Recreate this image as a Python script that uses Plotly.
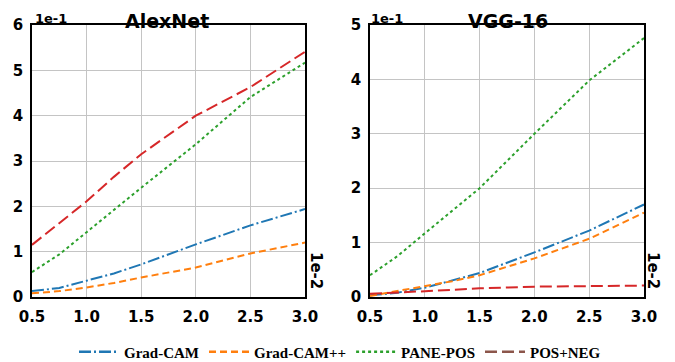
import plotly.graph_objects as go

x_vals = [0.5, 0.75, 1.0, 1.25, 1.5, 2.0, 2.5, 3.0]

# AlexNet (plotted on the 1e-1 left scale)
alex_gradcam   = [0.13, 0.20, 0.36, 0.52, 0.72, 1.16, 1.58, 1.94]
alex_gradcampp = [0.08, 0.13, 0.21, 0.31, 0.43, 0.65, 0.96, 1.20]
alex_panepos   = [0.55, 0.94, 1.43, 1.93, 2.41, 3.37, 4.41, 5.17]
alex_posneg    = [1.15, 1.62, 2.11, 2.65, 3.15, 4.00, 4.63, 5.41]

# VGG-16
vgg_gradcam   = [0.03, 0.08, 0.17, 0.30, 0.44, 0.82, 1.22, 1.70]
vgg_gradcampp = [0.02, 0.11, 0.19, 0.29, 0.40, 0.71, 1.07, 1.55]
vgg_panepos   = [0.40, 0.75, 1.17, 1.58, 2.00, 3.00, 3.98, 4.76]
vgg_posneg    = [0.06, 0.08, 0.10, 0.13, 0.16, 0.19, 0.20, 0.21]

series_names = ["Grad-CAM", "Grad-CAM++", "PANE-POS", "POS+NEG"]
line_colors = ["#1f77b4", "#ff7f0e", "#2ca02c", "#d62728"]
legend_colors = ["#1f77b4", "#ff7f0e", "#2ca02c", "#8c564b"]
dashes = ["12px,3px,2px,3px", "7px,4px", "3px,3px", "12px,5px"]

x_ticks = [0.5, 1.0, 1.5, 2.0, 2.5, 3.0]
x_tick_text = ["0.5", "1.0", "1.5", "2.0", "2.5", "3.0"]

W, H, OFF = 675, 362, 8  # page body margin offset


def px(s):
    return (s - OFF) / W


def py(s):
    return 1 - (s - OFF) / H


fig = go.Figure()

alex = [alex_gradcam, alex_gradcampp, alex_panepos, alex_posneg]
vgg = [vgg_gradcam, vgg_gradcampp, vgg_panepos, vgg_posneg]

for i in range(4):
    fig.add_trace(go.Scatter(x=x_vals, y=alex[i], mode="lines", showlegend=False,
                             line=dict(color=line_colors[i], width=2, dash=dashes[i]),
                             xaxis="x", yaxis="y"))
    fig.add_trace(go.Scatter(x=x_vals, y=vgg[i], mode="lines", showlegend=False,
                             line=dict(color=line_colors[i], width=2, dash=dashes[i]),
                             xaxis="x2", yaxis="y2"))
for i in range(4):
    fig.add_trace(go.Scatter(x=[None], y=[None], mode="lines", name=series_names[i],
                             line=dict(color=legend_colors[i], width=2.5, dash=dashes[i]),
                             xaxis="x", yaxis="y"))

tickfont = dict(family="DejaVu Sans", size=15, color="black", weight="bold")
common_x = dict(range=[0.5, 3.0], tickvals=x_ticks, ticktext=x_tick_text, showgrid=True,
                gridcolor="#c4c4c4", gridwidth=1, showline=True, linecolor="black",
                linewidth=1.5, mirror=True, ticks="", tickfont=tickfont, zeroline=False,
                ticklabelstandoff=5)
common_y = dict(showgrid=True, gridcolor="#c4c4c4", gridwidth=1, showline=True,
                linecolor="black", linewidth=1.5, mirror=True, ticks="",
                tickfont=tickfont, zeroline=False, dtick=1, ticklabelstandoff=4)

ydom = [py(297), py(25)]
fig.update_layout(
    width=W, height=H,
    margin=dict(l=0, r=0, t=0, b=0, autoexpand=False),
    paper_bgcolor="white", plot_bgcolor="white",
    xaxis=dict(domain=[px(32), px(305)], anchor="y", **common_x),
    yaxis=dict(domain=ydom, anchor="x", range=[0, 6], **common_y),
    xaxis2=dict(domain=[px(370), px(644)], anchor="y2", **common_x),
    yaxis2=dict(domain=ydom, anchor="x2", range=[0, 5], **common_y),
    legend=dict(orientation="h", x=px(340), xanchor="center", y=py(352), yanchor="middle",
                font=dict(family="Liberation Serif", size=15, color="black", weight="bold"),
                itemwidth=40, tracegroupgap=0, bgcolor="rgba(0,0,0,0)"),
    annotations=[
        dict(text="<b>AlexNet</b>", x=px(167), y=py(21), xref="paper", yref="paper",
             xanchor="center", yanchor="middle", showarrow=False,
             font=dict(family="DejaVu Sans", size=19, color="black")),
        dict(text="<b>VGG-16</b>", x=px(508), y=py(21), xref="paper", yref="paper",
             xanchor="center", yanchor="middle", showarrow=False,
             font=dict(family="DejaVu Sans", size=19, color="black")),
        dict(text="<b>1e-1</b>", x=px(33), y=py(18), xref="paper", yref="paper",
             xanchor="left", yanchor="middle", showarrow=False,
             font=dict(family="DejaVu Sans", size=13, color="black")),
        dict(text="<b>1e-1</b>", x=px(369), y=py(18), xref="paper", yref="paper",
             xanchor="left", yanchor="middle", showarrow=False,
             font=dict(family="DejaVu Sans", size=13, color="black")),
        dict(text="<b>1e-2</b>", x=px(316), y=py(270), xref="paper", yref="paper",
             textangle=90, xanchor="center", yanchor="middle", showarrow=False,
             font=dict(family="DejaVu Sans", size=15, color="black")),
        dict(text="<b>1e-2</b>", x=px(653), y=py(270), xref="paper", yref="paper",
             textangle=90, xanchor="center", yanchor="middle", showarrow=False,
             font=dict(family="DejaVu Sans", size=15, color="black")),
    ],
)

fig.write_html("out.html")
